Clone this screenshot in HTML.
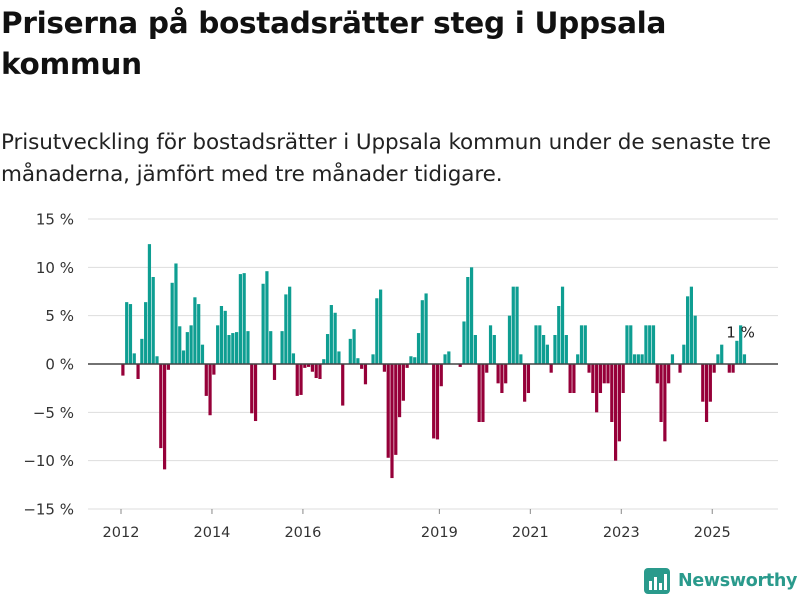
<!DOCTYPE html>
<html><head><meta charset="utf-8">
<style>
body{margin:0;width:800px;height:600px;background:#fff;font-family:"Liberation Sans","DejaVu Sans",sans-serif;overflow:hidden;position:relative;color:#111}
h1{position:absolute;left:1px;top:3px;margin:0;font-family:"DejaVu Sans",sans-serif;font-size:29.5px;line-height:41px;font-weight:bold;letter-spacing:-0.3px}
p.sub{position:absolute;left:1px;top:127px;margin:0;font-family:"DejaVu Sans",sans-serif;font-size:21.5px;line-height:32px;color:#222;letter-spacing:-0.1px;white-space:nowrap}
svg{position:absolute;left:0;top:0}
.logo{position:absolute;left:644px;top:568px;display:flex;align-items:center}
.logo span{font-family:"DejaVu Sans",sans-serif;font-size:17.5px;font-weight:bold;color:#2a9a8c;margin-left:8px;letter-spacing:-0.3px}
</style></head><body>
<h1>Priserna på bostadsrätter steg i Uppsala<br>kommun</h1>
<p class="sub">Prisutveckling för bostadsrätter i Uppsala kommun under de senaste tre<br>månaderna, jämfört med tre månader tidigare.</p>
<svg id="chart" width="800" height="600"></svg>
<div class="logo">
<svg width="26" height="26" style="position:static" viewBox="0 0 26 26"><rect x="0" y="0" width="26" height="26" rx="4" fill="#2a9a8c"/><rect x="5" y="13" width="3" height="9" fill="#fff"/><rect x="10" y="9" width="3" height="13" fill="#fff"/><rect x="15" y="15" width="3" height="7" fill="#fff"/><rect x="20" y="6" width="3" height="16" fill="#fff"/></svg>
<span>Newsworthy</span></div>
<script>
const startYear = 2012;
const values = [
-1.2,6.4,6.2,1.1,-1.55,2.6,6.4,12.4,9.0,0.8,-8.7,-10.9,
-0.6,8.4,10.4,3.9,1.4,3.3,4.0,6.9,6.2,2.0,-3.3,-5.3,
-1.1,4.0,6.0,5.5,3.0,3.2,3.3,9.3,9.4,3.4,-5.1,-5.9,
0,8.3,9.6,3.4,-1.65,0,3.4,7.2,8.0,1.1,-3.3,-3.2,
-0.4,-0.3,-0.8,-1.45,-1.55,0.5,3.1,6.1,5.3,1.3,-4.3,0,
2.6,3.6,0.6,-0.5,-2.1,0,1.0,6.8,7.7,-0.8,-9.7,-11.8,
-9.4,-5.5,-3.8,-0.4,0.8,0.7,3.2,6.6,7.3,0,-7.7,-7.8,
-2.3,1.0,1.3,0,0,-0.3,4.4,9.0,10.0,3.0,-6.0,-6.0,
-0.9,4.0,3.0,-2.0,-3.0,-2.0,5.0,8.0,8.0,1.0,-3.9,-3.0,
0,4.0,4.0,3.0,2.0,-0.9,3.0,6.0,8.0,3.0,-3.0,-3.0,
1.0,4.0,4.0,-0.9,-3.0,-5.0,-3.0,-2.0,-2.0,-6.0,-10.0,-8.0,
-3.0,4.0,4.0,1.0,1.0,1.0,4.0,4.0,4.0,-2.0,-6.0,-8.0,
-2.0,1.0,0,-0.9,2.0,7.0,8.0,5.0,0,-3.9,-6.0,-3.9,
-0.9,1.0,2.0,0,-0.9,-0.9,2.4,4.0,1.0
];
const yTicks = [15,10,5,0,-5,-10,-15];
const yTickLabels = ["15 %","10 %","5 %","0 %","−5 %","−10 %","−15 %"];
const xTickYears = [2012,2014,2016,2019,2021,2023,2025];
const lastLabel = "1 %";

const NS="http://www.w3.org/2000/svg";
const svg=document.getElementById('chart');
const plotL=88, plotR=778;
function y(v){return 364 - v*9.667;}
function x(monthIndex){return 121 + monthIndex*3.79;}
function mk(tag,attrs){const e=document.createElementNS(NS,tag);for(const k in attrs)e.setAttribute(k,attrs[k]);svg.appendChild(e);return e;}

yTicks.forEach((t,i)=>{
  if(t!==0){const g=mk('line',{x1:plotL,x2:plotR,y1:y(t),y2:y(t),stroke:'#dddddd','stroke-width':1});
  
  }
  const tx=mk('text',{x:74,y:y(t)+5.5,'text-anchor':'end','font-size':15,fill:'#333','font-family':'DejaVu Sans, sans-serif'});
  tx.textContent=yTickLabels[i];
  
  
});
xTickYears.forEach(yr=>{
  const xx=x((yr-startYear)*12);
  const tk=mk('line',{x1:xx,x2:xx,y1:509,y2:514,stroke:'#888','stroke-width':1});
  
  
  const tx=mk('text',{x:xx,y:537,'text-anchor':'middle','font-size':14.5,fill:'#333','font-family':'DejaVu Sans, sans-serif'});
  tx.textContent=yr;
  
  
});
values.forEach((v,i)=>{
  if(v===0)return;
  const top=Math.min(y(v),y(0)), h=Math.abs(y(v)-y(0));
  const r=mk('rect',{x:x(i)+0.3,y:top,width:3.2,height:h,fill:v>0?'#0e9e92':'#960039'});
  
  
});
const zl=mk('line',{x1:plotL,x2:plotR,y1:y(0),y2:y(0),stroke:'#444','stroke-width':1.5});


const li=values.length-1;
const lab=mk('text',{x:x(li)-2,y:y(values[li])-17,'text-anchor':'middle','font-size':15,fill:'#222','font-family':'DejaVu Sans, sans-serif'});
lab.textContent=lastLabel;


</script>
</body></html>
